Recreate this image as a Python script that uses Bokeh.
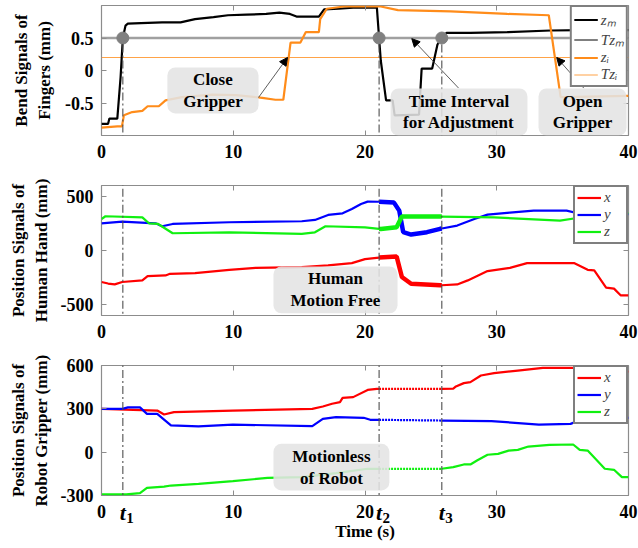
import numpy as np
from bokeh.plotting import figure
from bokeh.layouts import column
from bokeh.models import (Range1d, FixedTicker, Label, Arrow, NormalHead, Legend,
                          LegendItem, BoxAnnotation, LinearAxis)
from bokeh.embed import file_html
from bokeh.resources import INLINE

# ---------------- data ----------------
T_EVENTS = [1.62, 21.07, 25.83]
T_NAMES = ["1", "2", "3"]
TZ_M = 0.5
TZ_I = 0.2
X_TICKS = [0, 10, 20, 30, 40]
Y1_TICKS = [-0.5, 0, 0.5]
Y2_TICKS = [-500, 0, 500]
Y3_TICKS = [-300, 0, 300, 600]

# bend signals of fingers
ZM_T = [0, 0.5, 0.6, 1.2, 1.45, 1.62, 1.82, 2.0, 3.0, 4.6, 6.0, 7.1, 8.5, 9.6, 11.0, 12.5, 13.5, 14.3,
        14.8, 16.5, 16.9, 18.0, 19.1, 20.9, 21.07, 21.2, 21.6, 22.1, 22.25, 24.1, 24.3, 25.1, 25.5,
        25.83, 26.2, 28.0, 30.8, 34.1, 36.4, 40.0]
ZM = [-0.82, -0.82, -0.74, -0.74, -0.10, 0.50, 0.69, 0.72, 0.73, 0.74, 0.74, 0.79, 0.82, 0.85, 0.86,
      0.87, 0.89, 0.87, 0.83, 0.83, 0.94, 0.95, 0.965, 0.97, 0.50, 0.15, -0.46, -0.46, -0.69, -0.68,
      0.03, 0.03, 0.40, 0.50, 0.58, 0.58, 0.59, 0.615, 0.62, 0.62]
ZI_T = [0, 1.2, 1.55, 1.7, 2.33, 3.1, 3.5, 4.35, 4.86, 6.1, 8.4, 10.2, 12.2, 13.2, 13.8, 14.35, 15.1,
        15.5, 16.5, 16.6, 17.1, 18.4, 21.2, 22.5, 26.5, 30.8, 33.95, 34.85, 40.0]
ZI = [-0.88, -0.86, -0.86, -0.69, -0.64, -0.62, -0.55, -0.55, -0.46, -0.41, -0.37, -0.38, -0.42, -0.45,
      -0.45, 0.43, 0.43, 0.59, 0.59, 0.79, 0.95, 0.985, 0.985, 0.93, 0.91, 0.87, 0.85, -0.41, -0.39]

# position signals of human hand
HX_T = [0, 0.5, 1.0, 1.57, 3.1, 3.5, 4.86, 5.2, 7.1, 9.7, 11.7, 15.2, 17.2, 19.0, 20.0, 20.7, 21.07,
        22.4, 22.8, 23.5, 25.7, 25.83, 27.0, 27.8, 29.3, 31.0, 32.3, 35.9, 36.9, 37.4, 38.3, 38.9, 39.4, 40.0]
HX = [-291, -305, -313, -291, -276, -236, -230, -215, -209, -178, -160, -153, -138, -117, -80, -70, -65,
      -55, -245, -307, -321, -321, -313, -276, -190, -160, -117, -117, -178, -184, -343, -352, -414, -414]
HY_T = [0, 1.57, 4.1, 4.6, 5.4, 9.7, 15.2, 16.2, 17.2, 18.3, 19.0, 19.7, 20.2, 21.07, 22.2, 22.6, 22.9,
        23.5, 24.7, 25.7, 25.83, 27.0, 28.3, 29.3, 31.0, 32.8, 35.3, 36.4, 37.1, 40.0]
HY = [251, 267, 251, 224, 245, 261, 270, 282, 328, 343, 383, 430, 451, 450, 442, 368, 169, 147, 169, 200,
      203, 230, 291, 331, 350, 368, 368, 337, 328, 335]
HZ_T = [0, 0.3, 3.1, 3.6, 4.3, 5.4, 9.7, 15.2, 16.2, 17.0, 20.0, 21.07, 21.2, 22.4, 22.8, 25.7, 25.83,
        29.8, 34.8, 36.1, 36.9, 38.0, 40.0]
HZ = [291, 316, 306, 251, 245, 159, 168, 153, 168, 224, 214, 200, 199, 215, 313, 313, 313, 306, 276, 300,
      337, 340, 345]

# position signals of robot gripper
RX_T = [0, 4.23, 4.75, 5.5, 9.97, 16.0, 16.8, 17.5, 18.1, 18.3, 19.1, 20.2, 20.9, 21.07, 25.83, 26.7,
        26.9, 27.5, 28.0, 28.8, 29.8, 31.6, 33.5, 35.8, 36.3, 37.0, 40.0]
RX = [300, 288, 261, 277, 288, 300, 316, 335, 346, 376, 381, 431, 438, 438, 438, 440, 455, 478, 485, 531,
      547, 565, 584, 584, 554, 555, 560]
RY_T = [0, 1.6, 2.0, 2.92, 3.45, 4.23, 5.27, 7.36, 9.97, 16.0, 16.8, 17.8, 19.9, 20.4, 21.07, 25.83,
        29.6, 33.2, 35.6, 36.6, 38.2, 40.0]
RY = [300, 300, 310, 310, 265, 265, 185, 178, 191, 180, 231, 242, 238, 224, 224, 219, 215, 191, 196, 231,
      242, 238]
RZ_T = [0, 1.88, 2.92, 3.45, 4.75, 5.27, 7.36, 9.97, 12.6, 15.2, 17.8, 20.2, 21.07, 25.83, 26.7, 27.5,
        28.0, 28.5, 29.3, 30.1, 30.9, 31.6, 32.4, 34.0, 35.8, 36.3, 36.9, 38.2, 38.9, 39.5, 40.0]
RZ = [-292, -292, -284, -247, -238, -231, -219, -201, -178, -173, -145, -115, -115, -115, -104, -85, -85,
      -58, -18, -12, 11, 16, 39, 51, 53, 16, 11, -115, -122, -173, -173]

# ---------------- style ----------------
FONT = "Liberation Serif"
FRAME = "#8c8c8c"
ORANGE = "#ff8c1a"
RED = "#ff0000"
BLUE = "#0000ff"
GREEN = "#10f010"
DASH = "#4d4d4d"
SUB_DX = 0.55   # horizontal nudge (x units) of the subscript digit after "t"


def fmt(v):
    return ("%g" % v)


def mirror_axis(ticks):
    return LinearAxis(ticker=FixedTicker(ticks=ticks),
                      major_label_overrides={v: "" for v in ticks},
                      major_label_text_font_size="0px", major_label_standoff=0,
                      axis_line_color=None, major_tick_in=5, major_tick_out=0,
                      major_tick_line_color=FRAME, minor_tick_line_color=None)


def make_fig(height, yr, yticks, top, bottom, ylabel, lab_standoff):
    p = figure(width=638, height=height, x_range=Range1d(0, 40), y_range=Range1d(*yr),
               output_backend="svg", toolbar_location=None,
               min_border_left=101, min_border_right=10, min_border_top=top, min_border_bottom=bottom)
    p.grid.visible = False
    p.outline_line_color = FRAME
    p.outline_line_width = 1.2
    p.xaxis.ticker = FixedTicker(ticks=X_TICKS)
    p.yaxis.ticker = FixedTicker(ticks=yticks)
    p.yaxis.major_label_overrides = {v: fmt(v) for v in yticks}
    p.xaxis.major_label_overrides = {v: fmt(v) for v in X_TICKS}
    for ax in p.axis:
        ax.axis_line_color = None
        ax.major_tick_in = 5
        ax.major_tick_out = 0
        ax.minor_tick_line_color = None
        ax.major_tick_line_color = FRAME
        ax.major_label_text_font = FONT
        ax.major_label_text_font_style = "bold"
        ax.major_label_text_font_size = "18px"
        ax.major_label_text_color = "black"
    p.xaxis.major_label_standoff = 9
    p.yaxis.major_label_standoff = 8
    p.yaxis.axis_label = ylabel
    p.yaxis.axis_label_text_font = FONT
    p.yaxis.axis_label_text_font_style = "bold"
    p.yaxis.axis_label_text_font_size = "17px"
    p.yaxis.axis_label_text_color = "black"
    p.yaxis.axis_label_standoff = lab_standoff
    p.add_layout(mirror_axis(X_TICKS), "above")
    p.add_layout(mirror_axis(yticks), "right")
    return p


def vlines(p, y0, y1):
    for t in T_EVENTS:
        p.add_layout(Arrow(x_start=t, y_start=y0, x_end=t, y_end=y1, start=None, end=None,
                           line_color=DASH, line_width=1.1, line_dash="8 3 2 3"))


def textbox(p, l, r, b, t, text):
    p.add_layout(BoxAnnotation(left=l, right=r, bottom=b, top=t, fill_color="#e4e4e4",
                               fill_alpha=0.88, line_color=None, border_radius=8))
    p.add_layout(Label(x=(l + r) / 2, y=(b + t) / 2, text=text, text_align="center",
                       text_baseline="middle", text_font=FONT, text_font_style="bold",
                       text_font_size="17px", text_color="black", text_line_height=1.15))


def arrow(p, xs, ys, xe, ye):
    p.add_layout(Arrow(x_start=xs, y_start=ys, x_end=xe, y_end=ye, line_color="#333333",
                       line_width=0.8,
                       end=NormalHead(size=8, fill_color="black", line_color="black")))


def legend(p, items):
    lg = Legend(items=items, location="top_right", margin=0, padding=2, spacing=0,
                label_height=13, glyph_height=13, glyph_width=24, label_standoff=3,
                label_text_font=FONT, label_text_font_style="italic", label_text_font_size="15px",
                border_line_color="black", border_line_width=2, background_fill_alpha=1)
    p.add_layout(lg)


# ---------------- panel 1 ----------------
p1 = make_fig(166, (-1, 1), Y1_TICKS, 5, 31, "Bend Signals of\nFingers (mm)", 8)
xs_full = [X_TICKS[0], X_TICKS[-1]]
r_tzm = p1.line(xs_full, [TZ_M, TZ_M], line_color="black", line_width=1)
p1.line(xs_full, [TZ_M, TZ_M], line_color="#a0a0a0", line_width=2.4)
r_tzi = p1.line(xs_full, [TZ_I, TZ_I], line_color=ORANGE, line_width=1, line_alpha=0.8)
r_zm = p1.line(ZM_T, ZM, line_color="black", line_width=2.2)
r_zi = p1.line(ZI_T, ZI, line_color=ORANGE, line_width=2.2)
vlines(p1, TZ_M - 0.1, -6)
p1.scatter(T_EVENTS, [TZ_M] * len(T_EVENTS), size=12, color="#808080")
textbox(p1, 5.0, 11.92, -0.66, 0.046, "Close\nGripper")
textbox(p1, 21.94, 32.33, -1.0, -0.277, "Time Interval\nfor Adjustment")
textbox(p1, 33.17, 39.85, -1.0, -0.277, "Open\nGripper")
arrow(p1, 11.92, -0.415, 14.12, TZ_I)
arrow(p1, 27.1, -0.27, 23.55, 0.49)
arrow(p1, 36.6, -0.27, 34.55, TZ_I)
legend(p1, [LegendItem(label="z\u2098", renderers=[r_zm]),
            LegendItem(label="Tz\u2098", renderers=[r_tzm]),
            LegendItem(label="z\u1d62", renderers=[r_zi]),
            LegendItem(label="Tz\u1d62", renderers=[r_tzi])])

# ---------------- panel 2 ----------------
p2 = make_fig(180, (-600, 600), Y2_TICKS, 19, 31, "Position Signals of\nHuman Hand (mm)", 7)
t2, t3 = T_EVENTS[1], T_EVENTS[2]
rend2 = []
for xs, ys, c in [(HX_T, HX, RED), (HY_T, HY, BLUE), (HZ_T, HZ, GREEN)]:
    xa, ya = np.array(xs), np.array(ys)
    r = p2.line(xa, ya, line_color=c, line_width=2.2)
    m = (xa >= t2) & (xa <= t3)
    p2.line(xa[m], ya[m], line_color=c, line_width=4.5)
    rend2.append(r)
vlines(p2, 5000, -5000)
textbox(p2, 13.05, 22.47, -580, -147, "Human\nMotion Free")
legend(p2, [LegendItem(label=n, renderers=[r]) for n, r in zip(["x", "y", "z"], rend2)])

# ---------------- panel 3 ----------------
p3 = make_fig(201, (-300, 600), Y3_TICKS, 19, 52, "Position Signals of\nRobot Gripper (mm)", 7)
rend3 = []
for xs, ys, c in [(RX_T, RX, RED), (RY_T, RY, BLUE), (RZ_T, RZ, GREEN)]:
    xa, ya = np.array(xs), np.array(ys)
    a = xa <= t2
    b = (xa >= t2) & (xa <= t3)
    d = xa >= t3
    r = p3.line(xa[a], ya[a], line_color=c, line_width=2.2)
    p3.line(xa[b], ya[b], line_color=c, line_width=2.2, line_dash="2 1")
    p3.line(xa[d], ya[d], line_color=c, line_width=2.2)
    rend3.append(r)
vlines(p3, 5000, -300)
textbox(p3, 13.05, 21.85, -265, 58, "Motionless\nof Robot")
legend(p3, [LegendItem(label=n, renderers=[r]) for n, r in zip(["x", "y", "z"], rend3)])

# event-time labels "t" + subscript digit, on extra bottom axes pulled up to the number row
t_axis = LinearAxis(ticker=FixedTicker(ticks=T_EVENTS),
                    major_label_overrides={t: "t" for t in T_EVENTS},
                    axis_line_color=None, major_tick_in=0, major_tick_out=0,
                    major_tick_line_color=None, minor_tick_line_color=None,
                    major_label_standoff=-21, major_label_text_font=FONT,
                    major_label_text_font_style="bold italic", major_label_text_font_size="22px",
                    major_label_text_color="black")
p3.add_layout(t_axis, "below")
sub_ticks = [t + SUB_DX for t in T_EVENTS]
s_axis = LinearAxis(ticker=FixedTicker(ticks=sub_ticks),
                    major_label_overrides={s: n for s, n in zip(sub_ticks, T_NAMES)},
                    axis_line_color=None, major_tick_in=0, major_tick_out=0,
                    major_tick_line_color=None, minor_tick_line_color=None,
                    major_label_standoff=-15, major_label_text_font=FONT,
                    major_label_text_font_style="bold", major_label_text_font_size="15px",
                    major_label_text_color="black",
                    axis_label="Time (s)", axis_label_text_font=FONT, axis_label_text_font_style="bold",
                    axis_label_text_font_size="17px", axis_label_text_color="black",
                    axis_label_standoff=-4)
p3.add_layout(s_axis, "below")

layout = column(p1, p2, p3, spacing=0)
open("out.html", "w").write(file_html(layout, INLINE))
